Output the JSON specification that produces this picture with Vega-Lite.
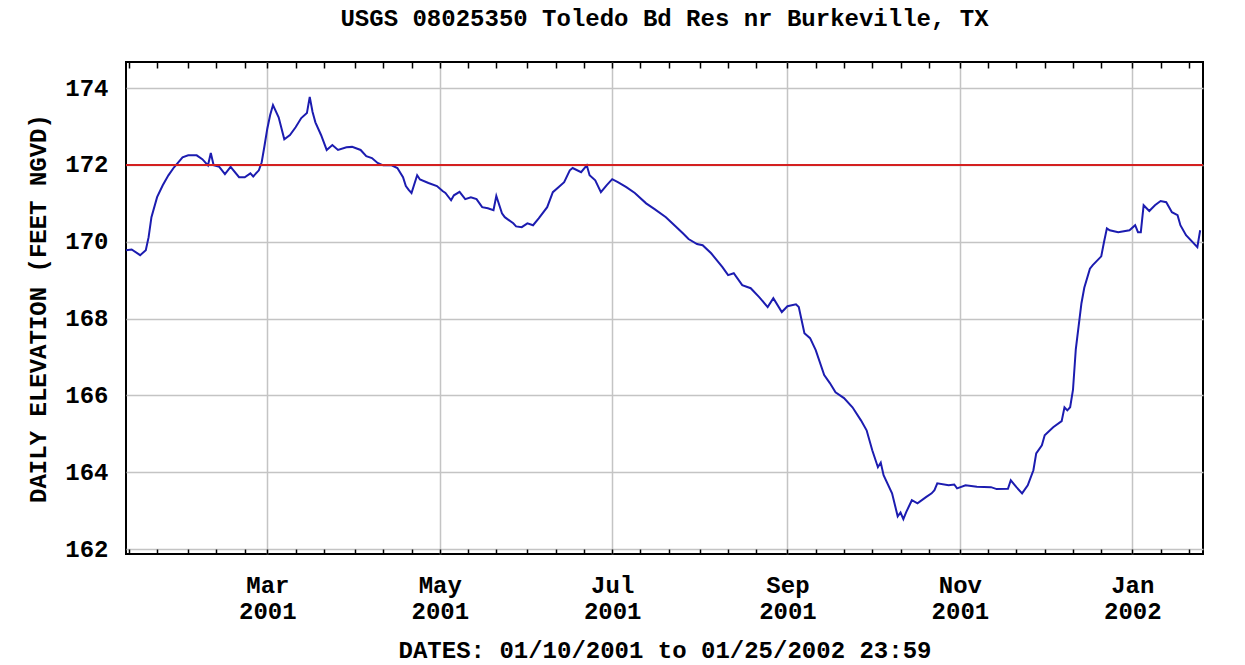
{
  "$schema": "https://vega.github.io/schema/vega-lite/v6.json",
  "width": 1077,
  "height": 492,
  "autosize": "none",
  "padding": {"left": 126, "top": 62, "right": 42, "bottom": 111},
  "background": "white",
  "title": {
    "text": "USGS 08025350 Toledo Bd Res nr Burkeville, TX",
    "font": "Liberation Mono",
    "fontSize": 24,
    "fontWeight": "bold",
    "color": "#000000",
    "anchor": "middle",
    "offset": 30
  },
  "config": {
    "view": {"stroke": "#000000", "strokeWidth": 2},
    "axis": {
      "domain": false,
      "labelFont": "Liberation Mono",
      "labelFontWeight": "bold",
      "labelFontSize": 24,
      "labelColor": "#000000",
      "titleFont": "Liberation Mono",
      "titleFontWeight": "bold",
      "titleFontSize": 24,
      "titleColor": "#000000",
      "gridColor": "#c4c4c4",
      "gridWidth": 1.5,
      "tickColor": "#000000",
      "tickWidth": 1.5
    }
  },
  "data": {
    "values": [
      {"date": "2001-01-10", "elev": 169.78},
      {"date": "2001-01-12", "elev": 169.80},
      {"date": "2001-01-15", "elev": 169.65},
      {"date": "2001-01-17", "elev": 169.78},
      {"date": "2001-01-18", "elev": 170.12},
      {"date": "2001-01-19", "elev": 170.64},
      {"date": "2001-01-21", "elev": 171.16},
      {"date": "2001-01-23", "elev": 171.47},
      {"date": "2001-01-25", "elev": 171.73},
      {"date": "2001-01-27", "elev": 171.94},
      {"date": "2001-01-30", "elev": 172.20},
      {"date": "2001-02-01", "elev": 172.25},
      {"date": "2001-02-04", "elev": 172.25},
      {"date": "2001-02-06", "elev": 172.15},
      {"date": "2001-02-08", "elev": 171.99},
      {"date": "2001-02-09", "elev": 172.31},
      {"date": "2001-02-10", "elev": 171.99},
      {"date": "2001-02-12", "elev": 171.95},
      {"date": "2001-02-14", "elev": 171.76},
      {"date": "2001-02-16", "elev": 171.95},
      {"date": "2001-02-19", "elev": 171.68},
      {"date": "2001-02-21", "elev": 171.68},
      {"date": "2001-02-23", "elev": 171.78},
      {"date": "2001-02-24", "elev": 171.70},
      {"date": "2001-02-26", "elev": 171.86},
      {"date": "2001-02-27", "elev": 172.07},
      {"date": "2001-02-28", "elev": 172.50},
      {"date": "2001-03-01", "elev": 172.95},
      {"date": "2001-03-02", "elev": 173.30},
      {"date": "2001-03-03", "elev": 173.56},
      {"date": "2001-03-05", "elev": 173.24},
      {"date": "2001-03-07", "elev": 172.67},
      {"date": "2001-03-09", "elev": 172.78},
      {"date": "2001-03-11", "elev": 172.98},
      {"date": "2001-03-13", "elev": 173.22},
      {"date": "2001-03-15", "elev": 173.35},
      {"date": "2001-03-16", "elev": 173.77},
      {"date": "2001-03-17", "elev": 173.38},
      {"date": "2001-03-18", "elev": 173.11},
      {"date": "2001-03-20", "elev": 172.78},
      {"date": "2001-03-22", "elev": 172.39},
      {"date": "2001-03-24", "elev": 172.52},
      {"date": "2001-03-26", "elev": 172.39},
      {"date": "2001-03-29", "elev": 172.46},
      {"date": "2001-03-31", "elev": 172.47},
      {"date": "2001-04-03", "elev": 172.39},
      {"date": "2001-04-05", "elev": 172.23},
      {"date": "2001-04-07", "elev": 172.18},
      {"date": "2001-04-09", "elev": 172.05},
      {"date": "2001-04-11", "elev": 171.99},
      {"date": "2001-04-14", "elev": 171.99},
      {"date": "2001-04-16", "elev": 171.92},
      {"date": "2001-04-18", "elev": 171.68},
      {"date": "2001-04-19", "elev": 171.45},
      {"date": "2001-04-20", "elev": 171.35},
      {"date": "2001-04-21", "elev": 171.27},
      {"date": "2001-04-23", "elev": 171.73},
      {"date": "2001-04-24", "elev": 171.62},
      {"date": "2001-04-27", "elev": 171.53},
      {"date": "2001-04-30", "elev": 171.45},
      {"date": "2001-05-02", "elev": 171.32},
      {"date": "2001-05-03", "elev": 171.27},
      {"date": "2001-05-05", "elev": 171.08},
      {"date": "2001-05-06", "elev": 171.21},
      {"date": "2001-05-08", "elev": 171.30},
      {"date": "2001-05-10", "elev": 171.11},
      {"date": "2001-05-12", "elev": 171.16},
      {"date": "2001-05-14", "elev": 171.11},
      {"date": "2001-05-16", "elev": 170.90},
      {"date": "2001-05-18", "elev": 170.87},
      {"date": "2001-05-20", "elev": 170.82},
      {"date": "2001-05-21", "elev": 171.19},
      {"date": "2001-05-23", "elev": 170.74},
      {"date": "2001-05-24", "elev": 170.64},
      {"date": "2001-05-27", "elev": 170.48},
      {"date": "2001-05-28", "elev": 170.40},
      {"date": "2001-05-30", "elev": 170.38},
      {"date": "2001-06-01", "elev": 170.48},
      {"date": "2001-06-03", "elev": 170.43},
      {"date": "2001-06-05", "elev": 170.61},
      {"date": "2001-06-08", "elev": 170.90},
      {"date": "2001-06-10", "elev": 171.29},
      {"date": "2001-06-12", "elev": 171.42},
      {"date": "2001-06-14", "elev": 171.55},
      {"date": "2001-06-16", "elev": 171.86},
      {"date": "2001-06-17", "elev": 171.92},
      {"date": "2001-06-20", "elev": 171.81},
      {"date": "2001-06-22", "elev": 171.99},
      {"date": "2001-06-23", "elev": 171.73},
      {"date": "2001-06-25", "elev": 171.60},
      {"date": "2001-06-27", "elev": 171.29},
      {"date": "2001-06-29", "elev": 171.47},
      {"date": "2001-07-01", "elev": 171.63},
      {"date": "2001-07-03", "elev": 171.55},
      {"date": "2001-07-06", "elev": 171.42},
      {"date": "2001-07-09", "elev": 171.27},
      {"date": "2001-07-13", "elev": 171.00},
      {"date": "2001-07-16", "elev": 170.85},
      {"date": "2001-07-20", "elev": 170.64},
      {"date": "2001-07-23", "elev": 170.43},
      {"date": "2001-07-26", "elev": 170.22},
      {"date": "2001-07-28", "elev": 170.07},
      {"date": "2001-07-31", "elev": 169.94},
      {"date": "2001-08-02", "elev": 169.91},
      {"date": "2001-08-05", "elev": 169.70},
      {"date": "2001-08-09", "elev": 169.34},
      {"date": "2001-08-11", "elev": 169.13},
      {"date": "2001-08-13", "elev": 169.18},
      {"date": "2001-08-16", "elev": 168.87},
      {"date": "2001-08-19", "elev": 168.79},
      {"date": "2001-08-22", "elev": 168.56},
      {"date": "2001-08-25", "elev": 168.30},
      {"date": "2001-08-27", "elev": 168.53},
      {"date": "2001-08-30", "elev": 168.17},
      {"date": "2001-09-01", "elev": 168.32},
      {"date": "2001-09-04", "elev": 168.37},
      {"date": "2001-09-05", "elev": 168.30},
      {"date": "2001-09-07", "elev": 167.62},
      {"date": "2001-09-09", "elev": 167.49},
      {"date": "2001-09-11", "elev": 167.18},
      {"date": "2001-09-14", "elev": 166.53},
      {"date": "2001-09-16", "elev": 166.32},
      {"date": "2001-09-18", "elev": 166.08},
      {"date": "2001-09-21", "elev": 165.93},
      {"date": "2001-09-24", "elev": 165.69},
      {"date": "2001-09-27", "elev": 165.35},
      {"date": "2001-09-29", "elev": 165.09},
      {"date": "2001-10-01", "elev": 164.57},
      {"date": "2001-10-03", "elev": 164.13},
      {"date": "2001-10-04", "elev": 164.25},
      {"date": "2001-10-05", "elev": 163.92},
      {"date": "2001-10-08", "elev": 163.45},
      {"date": "2001-10-10", "elev": 162.85},
      {"date": "2001-10-11", "elev": 162.95},
      {"date": "2001-10-12", "elev": 162.78},
      {"date": "2001-10-13", "elev": 162.96},
      {"date": "2001-10-15", "elev": 163.27},
      {"date": "2001-10-17", "elev": 163.19},
      {"date": "2001-10-20", "elev": 163.35},
      {"date": "2001-10-22", "elev": 163.45},
      {"date": "2001-10-23", "elev": 163.53},
      {"date": "2001-10-24", "elev": 163.71},
      {"date": "2001-10-28", "elev": 163.66},
      {"date": "2001-10-30", "elev": 163.68},
      {"date": "2001-10-31", "elev": 163.58},
      {"date": "2001-11-03", "elev": 163.66},
      {"date": "2001-11-07", "elev": 163.62},
      {"date": "2001-11-12", "elev": 163.61},
      {"date": "2001-11-14", "elev": 163.56},
      {"date": "2001-11-18", "elev": 163.57},
      {"date": "2001-11-19", "elev": 163.79},
      {"date": "2001-11-21", "elev": 163.61},
      {"date": "2001-11-23", "elev": 163.45},
      {"date": "2001-11-25", "elev": 163.66},
      {"date": "2001-11-27", "elev": 164.05},
      {"date": "2001-11-28", "elev": 164.49},
      {"date": "2001-11-30", "elev": 164.70},
      {"date": "2001-12-01", "elev": 164.96},
      {"date": "2001-12-04", "elev": 165.17},
      {"date": "2001-12-07", "elev": 165.33},
      {"date": "2001-12-08", "elev": 165.69},
      {"date": "2001-12-09", "elev": 165.61},
      {"date": "2001-12-10", "elev": 165.69},
      {"date": "2001-12-11", "elev": 166.14},
      {"date": "2001-12-12", "elev": 167.20},
      {"date": "2001-12-13", "elev": 167.80},
      {"date": "2001-12-14", "elev": 168.40},
      {"date": "2001-12-15", "elev": 168.80},
      {"date": "2001-12-17", "elev": 169.30},
      {"date": "2001-12-18", "elev": 169.39},
      {"date": "2001-12-21", "elev": 169.62},
      {"date": "2001-12-22", "elev": 170.00},
      {"date": "2001-12-23", "elev": 170.35},
      {"date": "2001-12-24", "elev": 170.30},
      {"date": "2001-12-27", "elev": 170.25},
      {"date": "2001-12-31", "elev": 170.30},
      {"date": "2002-01-02", "elev": 170.43},
      {"date": "2002-01-03", "elev": 170.25},
      {"date": "2002-01-04", "elev": 170.25},
      {"date": "2002-01-05", "elev": 170.95},
      {"date": "2002-01-07", "elev": 170.80},
      {"date": "2002-01-09", "elev": 170.95},
      {"date": "2002-01-11", "elev": 171.06},
      {"date": "2002-01-13", "elev": 171.03},
      {"date": "2002-01-15", "elev": 170.77},
      {"date": "2002-01-17", "elev": 170.69},
      {"date": "2002-01-18", "elev": 170.43},
      {"date": "2002-01-20", "elev": 170.17},
      {"date": "2002-01-24", "elev": 169.86},
      {"date": "2002-01-25", "elev": 170.30}
    ]
  },
  "layer": [
    {
      "mark": {"type": "line", "color": "#1c1cb0", "strokeWidth": 2, "interpolate": "linear"},
      "encoding": {
        "x": {
          "field": "date",
          "type": "temporal",
          "scale": {
            "type": "utc",
            "domain": [
              {"year": 2001, "month": 1, "date": 10, "utc": true},
              {"year": 2002, "month": 1, "date": 26, "utc": true}
            ]
          },
          "axis": {
            "orient": "bottom",
            "title": "DATES: 01/10/2001 to 01/25/2002 23:59",
            "titlePadding": 15,
            "grid": true,
            "gridOpacity": {"condition": {"test": "utcdate(datum.value) == 1 && utcmonth(datum.value) % 2 == 0", "value": 1}, "value": 0},
            "tickSize": -5,
            "labelPadding": 24,
            "labelLineHeight": 26,
            "labelOverlap": false,
            "labelExpr": "utcdate(datum.value) == 1 && utcmonth(datum.value) % 2 == 0 ? [utcFormat(datum.value, '%b'), utcFormat(datum.value, '%Y')] : ''",
            "values": [
              {"year": 2001, "month": 1, "date": 11, "utc": true},
              {"year": 2001, "month": 1, "date": 21, "utc": true},
              {"year": 2001, "month": 2, "date": 1, "utc": true},
              {"year": 2001, "month": 2, "date": 11, "utc": true},
              {"year": 2001, "month": 2, "date": 21, "utc": true},
              {"year": 2001, "month": 3, "date": 1, "utc": true},
              {"year": 2001, "month": 3, "date": 11, "utc": true},
              {"year": 2001, "month": 3, "date": 21, "utc": true},
              {"year": 2001, "month": 4, "date": 1, "utc": true},
              {"year": 2001, "month": 4, "date": 11, "utc": true},
              {"year": 2001, "month": 4, "date": 21, "utc": true},
              {"year": 2001, "month": 5, "date": 1, "utc": true},
              {"year": 2001, "month": 5, "date": 11, "utc": true},
              {"year": 2001, "month": 5, "date": 21, "utc": true},
              {"year": 2001, "month": 6, "date": 1, "utc": true},
              {"year": 2001, "month": 6, "date": 11, "utc": true},
              {"year": 2001, "month": 6, "date": 21, "utc": true},
              {"year": 2001, "month": 7, "date": 1, "utc": true},
              {"year": 2001, "month": 7, "date": 11, "utc": true},
              {"year": 2001, "month": 7, "date": 21, "utc": true},
              {"year": 2001, "month": 8, "date": 1, "utc": true},
              {"year": 2001, "month": 8, "date": 11, "utc": true},
              {"year": 2001, "month": 8, "date": 21, "utc": true},
              {"year": 2001, "month": 9, "date": 1, "utc": true},
              {"year": 2001, "month": 9, "date": 11, "utc": true},
              {"year": 2001, "month": 9, "date": 21, "utc": true},
              {"year": 2001, "month": 10, "date": 1, "utc": true},
              {"year": 2001, "month": 10, "date": 11, "utc": true},
              {"year": 2001, "month": 10, "date": 21, "utc": true},
              {"year": 2001, "month": 11, "date": 1, "utc": true},
              {"year": 2001, "month": 11, "date": 11, "utc": true},
              {"year": 2001, "month": 11, "date": 21, "utc": true},
              {"year": 2001, "month": 12, "date": 1, "utc": true},
              {"year": 2001, "month": 12, "date": 11, "utc": true},
              {"year": 2001, "month": 12, "date": 21, "utc": true},
              {"year": 2002, "month": 1, "date": 1, "utc": true},
              {"year": 2002, "month": 1, "date": 11, "utc": true},
              {"year": 2002, "month": 1, "date": 21, "utc": true}
            ]
          }
        },
        "y": {
          "field": "elev",
          "type": "quantitative",
          "scale": {"domain": [161.87, 174.68], "nice": false, "zero": false},
          "axis": {
            "orient": "left",
            "title": "DAILY ELEVATION (FEET NGVD)",
            "values": [162, 164, 166, 168, 170, 172, 174],
            "ticks": false,
            "labelPadding": 18,
            "titlePadding": 14,
            "grid": true
          }
        }
      }
    },
    {
      "data": {"values": [{"level": 172}]},
      "mark": {"type": "rule", "color": "#d42020", "strokeWidth": 2},
      "encoding": {
        "y": {"field": "level", "type": "quantitative"}
      }
    },
    {
      "mark": {"type": "line", "opacity": 0},
      "encoding": {
        "x": {
          "field": "date",
          "type": "temporal",
          "axis": {
            "orient": "top",
            "title": null,
            "labels": false,
            "grid": false,
            "ticks": true,
            "tickSize": -6,
            "tickColor": "#000000",
            "values": [
              {"year": 2001, "month": 1, "date": 11, "utc": true},
              {"year": 2001, "month": 1, "date": 21, "utc": true},
              {"year": 2001, "month": 2, "date": 1, "utc": true},
              {"year": 2001, "month": 2, "date": 11, "utc": true},
              {"year": 2001, "month": 2, "date": 21, "utc": true},
              {"year": 2001, "month": 3, "date": 1, "utc": true},
              {"year": 2001, "month": 3, "date": 11, "utc": true},
              {"year": 2001, "month": 3, "date": 21, "utc": true},
              {"year": 2001, "month": 4, "date": 1, "utc": true},
              {"year": 2001, "month": 4, "date": 11, "utc": true},
              {"year": 2001, "month": 4, "date": 21, "utc": true},
              {"year": 2001, "month": 5, "date": 1, "utc": true},
              {"year": 2001, "month": 5, "date": 11, "utc": true},
              {"year": 2001, "month": 5, "date": 21, "utc": true},
              {"year": 2001, "month": 6, "date": 1, "utc": true},
              {"year": 2001, "month": 6, "date": 11, "utc": true},
              {"year": 2001, "month": 6, "date": 21, "utc": true},
              {"year": 2001, "month": 7, "date": 1, "utc": true},
              {"year": 2001, "month": 7, "date": 11, "utc": true},
              {"year": 2001, "month": 7, "date": 21, "utc": true},
              {"year": 2001, "month": 8, "date": 1, "utc": true},
              {"year": 2001, "month": 8, "date": 11, "utc": true},
              {"year": 2001, "month": 8, "date": 21, "utc": true},
              {"year": 2001, "month": 9, "date": 1, "utc": true},
              {"year": 2001, "month": 9, "date": 11, "utc": true},
              {"year": 2001, "month": 9, "date": 21, "utc": true},
              {"year": 2001, "month": 10, "date": 1, "utc": true},
              {"year": 2001, "month": 10, "date": 11, "utc": true},
              {"year": 2001, "month": 10, "date": 21, "utc": true},
              {"year": 2001, "month": 11, "date": 1, "utc": true},
              {"year": 2001, "month": 11, "date": 11, "utc": true},
              {"year": 2001, "month": 11, "date": 21, "utc": true},
              {"year": 2001, "month": 12, "date": 1, "utc": true},
              {"year": 2001, "month": 12, "date": 11, "utc": true},
              {"year": 2001, "month": 12, "date": 21, "utc": true},
              {"year": 2002, "month": 1, "date": 1, "utc": true},
              {"year": 2002, "month": 1, "date": 11, "utc": true},
              {"year": 2002, "month": 1, "date": 21, "utc": true}
            ]
          }
        },
        "y": {"field": "elev", "type": "quantitative"}
      }
    }
  ],
  "resolve": {"axis": {"x": "independent"}}
}
